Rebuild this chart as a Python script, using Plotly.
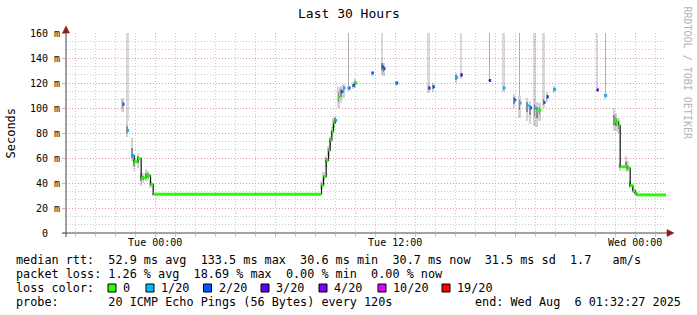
import plotly.graph_objects as go
import pandas as pd

# ---------------- data ----------------
X_START = "2025-08-04 19:32:27"
X_END = "2025-08-06 01:32:27"

times = [
    "2025-08-04 22:22", "2025-08-04 22:36", "2025-08-04 22:50", "2025-08-04 22:57",
    "2025-08-04 23:08", "2025-08-04 23:18", "2025-08-04 23:24", "2025-08-04 23:33",
    "2025-08-04 23:39", "2025-08-04 23:46", "2025-08-04 23:54", "2025-08-05 08:12",
    "2025-08-05 08:19", "2025-08-05 08:25", "2025-08-05 08:33", "2025-08-05 08:40",
    "2025-08-05 08:45", "2025-08-05 08:50", "2025-08-05 08:55", "2025-08-05 09:00",
    "2025-08-05 09:10", "2025-08-05 09:17", "2025-08-05 09:25", "2025-08-05 09:40",
    "2025-08-05 09:53", "2025-08-05 10:00", "2025-08-05 10:50", "2025-08-05 11:20",
    "2025-08-05 11:25", "2025-08-05 12:03", "2025-08-05 13:40", "2025-08-05 13:53",
    "2025-08-05 15:03", "2025-08-05 15:17", "2025-08-05 16:42", "2025-08-05 17:25",
    "2025-08-05 17:57", "2025-08-05 18:13", "2025-08-05 18:35", "2025-08-05 18:45",
    "2025-08-05 18:58", "2025-08-05 19:05", "2025-08-05 19:13", "2025-08-05 19:25",
    "2025-08-05 19:35", "2025-08-05 19:57", "2025-08-05 22:05", "2025-08-05 22:30",
    "2025-08-05 22:57", "2025-08-05 23:03", "2025-08-05 23:10", "2025-08-05 23:15",
    "2025-08-05 23:33", "2025-08-05 23:37", "2025-08-05 23:45", "2025-08-05 23:53",
    "2025-08-06 00:00", "2025-08-06 00:05", "2025-08-06 01:32",
]
median_ms = [
    103, 82, 62, 57, 59.5, 44, 44, 45.5, 46, 39, 31, 31,
    38, 45, 58, 66, 74, 81, 88, 90,
    109, 113, 116, 116, 118, 120, 128, 133, 131.5, 120, 116, 117,
    124.5, 126.5, 122, 116, 106.5, 104, 102, 100, 100, 98, 98.5, 104.5,
    109, 115, 114.5, 110,
    90, 89, 86, 53, 53, 52, 38, 34, 32, 30.5, 30.5,
]
loss_idx = [
    2, 1, 1, 0, 0, 0, 0, 0, 0, 0, 0, 0,
    0, 0, 0, 0, 0, 0, 0, 1,
    0, 2, 1, 2, 2, 0, 2, 2, 2, 2, 3, 2,
    1, 3, 3, 1, 2, 1, 1, 2, 1, 0, 0, 2,
    2, 1, 3, 1,
    0, 0, 0, 0, 0, 0, 0, 0, 0, 0, 0,
]
smoke_lo = [
    97, 77, 58, 50, 52, 38, 40, 42, 42, 36, 30.5, 30.5,
    35, 42, 53, 62, 70, 78, 84, 87,
    100, 104, 108, 114, 115, 116, 126, 127, 126, 118, 112, 113,
    120, 123, 121, 113, 100, 92, 90, 87, 86, 85, 90, 100,
    105, 112, 113, 107,
    82, 82, 80, 50, 50, 49, 36, 32, 30.5, 30, 30,
]
smoke_hi = [
    108, 90, 76, 60, 64, 49, 48, 51, 50, 42, 32, 32,
    42, 49, 62, 70, 78, 85, 92, 94,
    117, 118, 119, 118, 121, 123, 130, 140, 136, 122, 119, 120,
    128, 130, 123, 119, 111, 110, 108, 106, 108, 105, 104, 110,
    113, 118, 116, 112,
    100, 96, 92, 56, 62, 58, 42, 37, 34, 31, 31,
]
# highest single ping (None = all pings within the smoke band shown)
spike_max = [
    None, 500, None, None, None, None, None, None, None, None, None, None,
    None, None, None, None, None, None, None, None,
    None, None, None, 500, None, None, None, 500, None, None, 500, None,
    None, 500, 500, 500, None, 500, None, None, 500, None, None, 500,
    None, None, 500, 500,
    None, None, None, None, None, None, None, None, None, None, None,
]
# how many of the consecutive probes reached the high value (1 = single, 3 = several)
spike_count = [
    0, 3, 0, 0, 0, 0, 0, 0, 0, 0, 0, 0,
    0, 0, 0, 0, 0, 0, 0, 0,
    0, 0, 0, 1, 0, 0, 0, 3, 0, 0, 3, 0,
    0, 3, 1, 3, 0, 1, 0, 0, 3, 0, 0, 3,
    0, 0, 3, 1,
    0, 0, 0, 0, 0, 0, 0, 0, 0, 0, 0,
]
# samples sharing a run id > 0 are contiguous measurements
run_id = [
    0, 0, 1, 1, 1, 1, 1, 1, 1, 1, 1, 1,
    1, 1, 1, 1, 1, 1, 1, 1,
    0, 0, 0, 0, 0, 0, 0, 0, 0, 0, 0, 0,
    0, 0, 0, 0, 0, 0, 0, 0, 0, 0, 0, 0,
    0, 0, 0, 0,
    2, 2, 2, 2, 2, 2, 2, 2, 2, 2, 2,
]

loss_labels = ["0", "1/20", "2/20", "3/20", "4/20", "10/20", "19/20"]
loss_colors = ["#26ff00", "#00b8ff", "#0059ff", "#5e00ff", "#7e00ff", "#dd00ff", "#ff0000"]

y_tickvals = [0, 20, 40, 60, 80, 100, 120, 140, 160]
y_ticktext = ["0\u00a0\u00a0"] + [f"{v} m" for v in y_tickvals[1:]]

title_text = "Last 30 Hours"
y_title = "Seconds"
watermark = "RRDTOOL / TOBI OETIKER"
line_rtt = "median rtt:  52.9 ms avg  133.5 ms max  30.6 ms min  30.7 ms now  31.5 ms sd  1.7   am/s"
line_loss = "packet loss: 1.26 % avg  18.69 % max  0.00 % min  0.00 % now"
line_color = "loss color:"
line_probe = "probe:       20 ICMP Echo Pings (56 Bytes) every 120s"
line_end = "end: Wed Aug  6 01:32:27 2025"

# ---------------- geometry helpers (pixel -> paper) ----------------
PL, PR, PT, PB = 66, 666, 33, 233
W, H = 697, 315


def px(x):
    return (x - PL) / (PR - PL)


def py(y):
    return (PB - y) / (PB - PT)


MIN = 60 * 1000
FONT = "DejaVu Sans Mono"

t = pd.to_datetime(pd.Series(times))

fig = go.Figure()

# spikes (single probes far above the band)
for cnt, col, wid in [(3, "rgba(0,0,0,0.15)", 8 * MIN), (1, "rgba(0,0,0,0.30)", 3 * MIN)]:
    idx = [i for i in range(len(times)) if spike_max[i] is not None and spike_count[i] == cnt]
    fig.add_trace(go.Bar(
        x=[t[i] for i in idx],
        base=[smoke_hi[i] for i in idx],
        y=[spike_max[i] - smoke_hi[i] for i in idx],
        width=wid, marker=dict(color=col, line=dict(width=0)),
        showlegend=False, hoverinfo="skip"))

# smoke (outer and inner band)
fig.add_trace(go.Bar(
    x=t, base=smoke_lo, y=[h - l for l, h in zip(smoke_lo, smoke_hi)],
    width=7 * MIN, marker=dict(color="rgba(0,0,0,0.17)", line=dict(width=0)),
    showlegend=False, hoverinfo="skip"))
in_lo = [m - (m - l) * 0.45 for m, l in zip(median_ms, smoke_lo)]
in_hi = [m + (h - m) * 0.45 for m, h in zip(median_ms, smoke_hi)]
fig.add_trace(go.Bar(
    x=t, base=in_lo, y=[h - l for l, h in zip(in_lo, in_hi)],
    width=5 * MIN, marker=dict(color="rgba(0,0,0,0.33)", line=dict(width=0)),
    showlegend=False, hoverinfo="skip"))

# black connecting steps within runs
cx, cy = [], []
for r in sorted(set(run_id) - {0}):
    for i in range(len(times)):
        if run_id[i] == r:
            cx.append(t[i])
            cy.append(median_ms[i])
    cx.append(None)
    cy.append(None)
fig.add_trace(go.Scatter(x=cx, y=cy, mode="lines", line=dict(color="#111111", width=1.2, shape="hv"),
                         showlegend=False, hoverinfo="skip", connectgaps=False))

# coloured median segments
for c in range(len(loss_colors)):
    sx, sy = [], []
    for i in range(len(times)):
        if loss_idx[i] != c:
            continue
        if run_id[i] > 0 and i + 1 < len(times) and run_id[i + 1] == run_id[i]:
            end = t[i + 1]
        else:
            end = t[i] + pd.Timedelta(minutes=6)
        sx += [t[i], end, None]
        sy += [median_ms[i], median_ms[i], None]
    if sx:
        fig.add_trace(go.Scatter(x=sx, y=sy, mode="lines", line=dict(color=loss_colors[c], width=3),
                                 showlegend=False, hoverinfo="skip", connectgaps=False))

GRID_MINOR = "rgba(150,150,150,0.5)"
GRID_MAJOR = "rgba(225,130,130,0.65)"

fig.update_layout(
    width=W, height=H, autosize=False,
    margin=dict(l=PL, r=W - PR, t=PT, b=H - PB),
    paper_bgcolor="white", plot_bgcolor="white",
    barmode="overlay", bargap=0,
    showlegend=False,
    font=dict(family=FONT, size=10, color="black"),
    xaxis=dict(
        type="date", range=[X_START, X_END],
        tickmode="linear", tick0="2025-08-05 00:00", dtick=6 * 60 * MIN,
        showticklabels=False, showgrid=True, gridcolor=GRID_MAJOR, griddash="1px,2px", gridwidth=1,
        ticks="outside", ticklen=3, tickcolor=GRID_MAJOR,
        minor=dict(tickmode="linear", tick0="2025-08-05 00:00", dtick=60 * MIN, showgrid=True,
                   gridcolor=GRID_MINOR, griddash="1px,2px", gridwidth=1,
                   ticks="outside", ticklen=3, tickcolor=GRID_MINOR),
        showline=False, zeroline=False, fixedrange=True,
    ),
    xaxis2=dict(
        type="date", range=[X_START, X_END], overlaying="x", anchor="y", side="bottom",
        tickmode="linear", tick0="2025-08-05 00:00", dtick=12 * 60 * MIN,
        tickformat="%a %H:%M", showgrid=False, zeroline=False, showline=False,
        ticks="", ticklabelstandoff=2, tickfont=dict(family=FONT, size=10, color="black"),
    ),
    yaxis=dict(
        range=[0, 160], tickmode="array", tickvals=y_tickvals, ticktext=y_ticktext,
        showgrid=True, gridcolor=GRID_MAJOR, griddash="1px,2px", gridwidth=1,
        ticks="outside", ticklen=3, tickcolor=GRID_MAJOR,
        minor=dict(tickmode="linear", tick0=0, dtick=20 / 3, showgrid=True,
                   gridcolor=GRID_MINOR, griddash="1px,2px", gridwidth=1),
        zeroline=False, showline=False,
        tickfont=dict(family=FONT, size=10, color="black"),
    ),
)

# dummy trace to activate xaxis2
fig.add_trace(go.Scatter(x=[X_START, X_END], y=[None, None], xaxis="x2", mode="lines",
                         showlegend=False, hoverinfo="skip"))

shapes = []
AX = "#444444"
ARROW = "#8b1a1a"
# axis lines
shapes.append(dict(type="line", xref="paper", yref="paper", x0=px(62), x1=px(668), y0=0, y1=0,
                   line=dict(color=AX, width=1), layer="above"))
shapes.append(dict(type="line", xref="paper", yref="paper", x0=0, x1=0, y0=py(237), y1=py(30),
                   line=dict(color=AX, width=1), layer="above"))
# arrows
shapes.append(dict(type="path", xref="paper", yref="paper", layer="above",
                   path=f"M {px(667)} {py(229.5)} L {px(674)} {py(233)} L {px(667)} {py(236.5)} Z",
                   fillcolor=ARROW, line=dict(color=ARROW, width=0.5)))
shapes.append(dict(type="path", xref="paper", yref="paper", layer="above",
                   path=f"M {px(62.5)} {py(33)} L {px(66)} {py(26)} L {px(69.5)} {py(33)} Z",
                   fillcolor=ARROW, line=dict(color=ARROW, width=0.5)))

# legend boxes
box_x = [108, 146, 203.5, 261, 319, 378, 442]
annots = []
for bx, col, lab in zip(box_x, loss_colors, loss_labels):
    shapes.append(dict(type="rect", xref="paper", yref="paper",
                       x0=px(bx), x1=px(bx + 8), y0=py(292), y1=py(284),
                       fillcolor=col, line=dict(color="black", width=1)))
    annots.append(dict(text=lab, x=px(bx + 14), y=py(288), xanchor="left", yanchor="middle"))

rows = [(line_rtt, 259.5), (line_loss, 273.5), (line_color, 287.7), (line_probe, 301.5)]
for txt, yy in rows:
    annots.append(dict(text=txt.replace(" ", "\u00a0"), x=px(15), y=py(yy), xanchor="left", yanchor="middle"))
annots.append(dict(text=line_end.replace(" ", "\u00a0"), x=px(682), y=py(301.5), xanchor="right", yanchor="middle"))

for a in annots:
    a.update(xref="paper", yref="paper", showarrow=False, borderpad=0,
             font=dict(family=FONT, size=11.8, color="black"))

annots.append(dict(text=title_text, x=px(348.5), y=py(13.5), xref="paper", yref="paper", showarrow=False,
                   xanchor="center", yanchor="middle", borderpad=0,
                   font=dict(family=FONT, size=13, color="black")))
annots.append(dict(text=y_title, x=px(10.5), y=py(133), xref="paper", yref="paper", showarrow=False,
                   xanchor="center", yanchor="middle", textangle=-90, borderpad=0,
                   font=dict(family=FONT, size=12, color="black")))
annots.append(dict(text=watermark, x=px(687), y=py(5), xref="paper", yref="paper", showarrow=False,
                   xanchor="center", yanchor="top", textangle=90, borderpad=0,
                   font=dict(family=FONT, size=10, color="#b4b4b4")))

fig.update_layout(shapes=shapes, annotations=annots)

fig.write_html("out.html")
